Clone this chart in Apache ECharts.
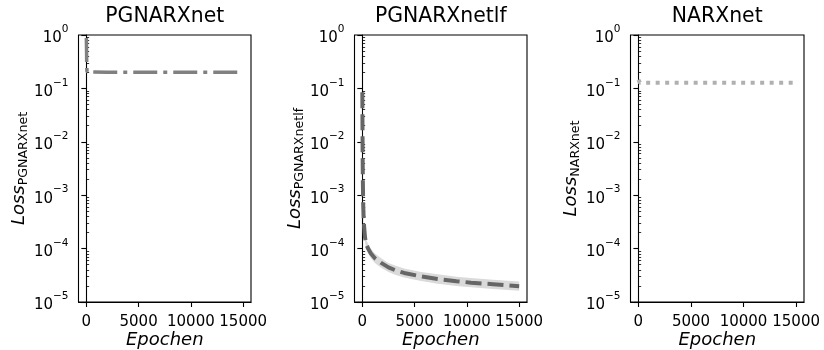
<!DOCTYPE html>
<html>
<head>
<meta charset="utf-8">
<script src="https://cdn.jsdelivr.net/npm/echarts@6/dist/echarts.min.js"></script>
<style>
  html, body { margin: 0; padding: 0; background: #fff; }
  #chart { width: 824px; height: 350px; }
</style>
</head>
<body>
<div id="chart"></div>
<script>
// Panel titles and subscript names of the loss axes
const panelTitles = ['PGNARXnet', 'PGNARXnetlf', 'NARXnet'];

// Axis ticks
const xTicks = [0, 5000, 10000, 15000];
const yMajorTicks = [1e-5, 1e-4, 1e-3, 1e-2, 1e-1, 1];
const yMinorTicks = [];
[1e-5, 1e-4, 1e-3, 1e-2, 1e-1].forEach(function (d) {
  [2, 3, 4, 5, 6, 7, 8, 9].forEach(function (m) { yMinorTicks.push(d * m); });
});

// PGNARXnet training loss
const pgEpochs = [0, 15, 30, 45, 70, 150, 2000, 5000, 8000, 11000, 15000];
const pgLoss   = [0.88, 0.6, 0.35, 0.24, 0.205, 0.2, 0.2, 0.2, 0.2, 0.2, 0.2];

// PGNARXnetlf training loss with spread band
const lfEpochs = [0, 15, 30, 50, 80, 120, 180, 260, 380, 550, 800, 1200, 1800, 2500, 3200, 4000, 5500, 7200, 9000, 10400, 12500, 15000];
const lfLoss   = [0.085, 0.02, 5e-3, 1.8e-3, 7e-4, 4e-4, 2.4e-4, 1.6e-4, 1.2e-4, 1.0e-4, 8.2e-5, 6.6e-5, 5.4e-5, 4.45e-5, 3.9e-5, 3.5e-5, 3.05e-5, 2.7e-5, 2.45e-5, 2.3e-5, 2.15e-5, 1.98e-5];
const lfUpper  = [0.1, 0.025, 6.2e-3, 2.2e-3, 8.6e-4, 4.9e-4, 2.9e-4, 1.95e-4, 1.46e-4, 1.22e-4, 1.0e-4, 8.1e-5, 6.6e-5, 5.4e-5, 4.75e-5, 4.25e-5, 3.7e-5, 3.3e-5, 2.98e-5, 2.8e-5, 2.62e-5, 2.42e-5];
const lfLower  = [0.07, 0.016, 4.1e-3, 1.5e-3, 5.7e-4, 3.3e-4, 1.97e-4, 1.31e-4, 9.8e-5, 8.2e-5, 6.7e-5, 5.4e-5, 4.4e-5, 3.65e-5, 3.2e-5, 2.87e-5, 2.5e-5, 2.2e-5, 2.0e-5, 1.88e-5, 1.76e-5, 1.62e-5];

// NARXnet training loss
const nxEpochs = [0, 50, 150, 3000, 6000, 9000, 12000, 15000];
const nxLoss   = [0.145, 0.135, 0.128, 0.127, 0.127, 0.127, 0.127, 0.127];

const FONT = 'DejaVu Sans';
const grids = [
  { left: 78.5, width: 172.5 },
  { left: 354.5, width: 172.5 },
  { left: 630.5, width: 173.5 }
];

function zip(xs, ys) { return xs.map(function (x, i) { return [x, ys[i]]; }); }

function powLabel(v) {
  const e = Math.round(Math.log10(v));
  const s = e < 0 ? '\u2212' + (-e) : String(e);
  return '{b|10}{p|' + s + '}';
}

const option = {
  animation: false,
  backgroundColor: '#ffffff',
  grid: [], xAxis: [], yAxis: [], series: []
};

grids.forEach(function (g, i) {
  option.grid.push({
    left: g.left, width: g.width, top: 35, height: 267,
    containLabel: false, outerBoundsMode: 'none',
    show: true, borderColor: '#000', borderWidth: 1.1, backgroundColor: 'transparent'
  });
  // bottom epoch axis
  option.xAxis.push({
    type: 'value', gridIndex: i, min: -750, max: 15750,
    name: 'Epochen', nameLocation: 'middle', nameGap: 29, nameMoveOverlap: false,
    nameTextStyle: { fontFamily: FONT, fontStyle: 'italic', fontSize: 18, color: '#000' },
    axisLine: { show: true, onZero: false, lineStyle: { color: '#000', width: 1.1 } },
    axisTick: { show: true, length: 5, customValues: xTicks, lineStyle: { color: '#000', width: 1.1 } },
    axisLabel: {
      show: true, customValues: xTicks, margin: 13, fontFamily: FONT, fontSize: 15, color: '#000',
      formatter: function (v) { return String(v); }
    },
    splitLine: { show: false }
  });
  // top axis carrying the panel title
  option.xAxis.push({
    type: 'value', gridIndex: i, position: 'top', min: -750, max: 15750,
    name: panelTitles[i], nameLocation: 'middle', nameGap: 8,
    nameTextStyle: { fontFamily: FONT, fontSize: 20.4, color: '#000' },
    axisLine: { show: false }, axisTick: { show: false }, axisLabel: { show: false }, splitLine: { show: false }
  });
  // log loss axis with major ticks
  option.yAxis.push({
    type: 'log', logBase: 10, gridIndex: i, min: 1e-5, max: 1,
    name: '{l|Loss}{s|' + panelTitles[i] + '}', nameLocation: 'middle', nameGap: 48, nameMoveOverlap: false,
    nameTextStyle: {
      rich: {
        l: { fontFamily: FONT, fontStyle: 'italic', fontSize: 18, color: '#000', lineHeight: 20, verticalAlign: 'top' },
        s: { fontFamily: FONT, fontSize: 12.6, color: '#000', lineHeight: 20, verticalAlign: 'bottom' }
      }
    },
    axisLine: { show: true, lineStyle: { color: '#000', width: 1.1 } },
    axisTick: { show: true, length: 5, customValues: yMajorTicks, lineStyle: { color: '#000', width: 1.1 } },
    axisLabel: {
      show: true, customValues: yMajorTicks, margin: 10, formatter: powLabel,
      rich: {
        b: { fontFamily: FONT, fontSize: 15, color: '#000', lineHeight: 22, verticalAlign: 'bottom' },
        p: { fontFamily: FONT, fontSize: 10.5, color: '#000', lineHeight: 22, verticalAlign: 'top' }
      }
    },
    splitLine: { show: false }
  });
  // same log axis carrying the minor ticks
  option.yAxis.push({
    type: 'log', logBase: 10, gridIndex: i, min: 1e-5, max: 1,
    axisLine: { show: false },
    axisTick: { show: true, length: 2.8, customValues: yMinorTicks, lineStyle: { color: '#000', width: 0.8 } },
    axisLabel: { show: false },
    splitLine: { show: false }
  });
});

// PGNARXnet: dash-dot grey line
option.series.push({
  type: 'line', xAxisIndex: 0, yAxisIndex: 0, data: zip(pgEpochs, pgLoss),
  showSymbol: false, symbol: 'none',
  lineStyle: { color: '#808080', width: 3.5, type: [24, 6, 4, 6], cap: 'butt' }
});

// PGNARXnetlf: spread band
option.series.push({
  type: 'custom', xAxisIndex: 2, yAxisIndex: 2, data: [[0, 1e-3]], clip: true, silent: true,
  renderItem: function (params, api) {
    const pts = [];
    lfEpochs.forEach(function (e, k) { pts.push(api.coord([e, lfUpper[k]])); });
    for (let k = lfEpochs.length - 1; k >= 0; k--) pts.push(api.coord([lfEpochs[k], lfLower[k]]));
    return { type: 'polygon', shape: { points: pts }, style: { fill: '#dadada' } };
  }
});
// PGNARXnetlf: dashed dark grey line
option.series.push({
  type: 'line', xAxisIndex: 2, yAxisIndex: 2, data: zip(lfEpochs, lfLoss),
  showSymbol: false, symbol: 'none',
  lineStyle: { color: '#666666', width: 4, type: [16, 6], cap: 'butt' }
});

// NARXnet: dotted light grey line
option.series.push({
  type: 'line', xAxisIndex: 4, yAxisIndex: 4, data: zip(nxEpochs, nxLoss),
  showSymbol: false, symbol: 'none',
  lineStyle: { color: '#b0b0b0', width: 4, type: [4, 5.5], cap: 'butt' }
});

const chart = echarts.init(document.getElementById('chart'), null, { renderer: 'canvas' });
chart.setOption(option);
</script>
</body>
</html>
